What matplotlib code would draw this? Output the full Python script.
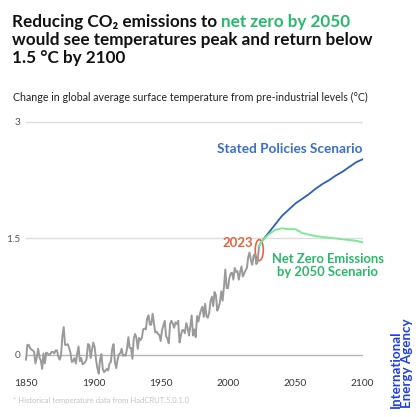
import matplotlib
matplotlib.use("Agg")
import matplotlib.pyplot as plt
from matplotlib.patches import Ellipse

plt.rcParams['font.family'] = ['Lato', 'DejaVu Sans']

# historical anomaly vs pre-industrial (HadCRUT-style), 1850-2023
hist_years = list(range(1850, 2024))
hist_temp = [
    -0.06, 0.13, 0.13, 0.09, 0.07, 0.06, 0.04, -0.11, -0.03, 0.08,
    -0.03, -0.07, -0.18, 0.02, -0.11, 0.03, 0.02, 0.00, 0.01, 0.04,
    0.04, 0.02, 0.06, 0.06, -0.02, -0.06, -0.01, 0.24, 0.36, 0.13,
    0.13, 0.14, 0.09, 0.03, -0.09, -0.08, -0.04, -0.11, 0.02, 0.11,
    -0.08, -0.04, -0.12, -0.11, -0.09, -0.05, 0.14, 0.13, -0.04, 0.07,
    0.16, 0.10, -0.06, -0.17, -0.24, -0.06, 0.01, -0.18, -0.22, -0.20,
    -0.18, -0.20, -0.11, -0.09, 0.08, 0.14, -0.09, -0.17, -0.06, 0.01,
    0.02, 0.08, -0.01, 0.00, -0.01, 0.08, 0.23, 0.09, 0.09, -0.05,
    0.21, 0.27, 0.22, 0.08, 0.22, 0.19, 0.22, 0.33, 0.34, 0.33,
    0.47, 0.51, 0.39, 0.39, 0.53, 0.41, 0.29, 0.30, 0.27, 0.26,
    0.18, 0.32, 0.38, 0.44, 0.24, 0.21, 0.15, 0.40, 0.44, 0.40,
    0.35, 0.42, 0.40, 0.44, 0.16, 0.25, 0.32, 0.32, 0.28, 0.41,
    0.35, 0.25, 0.37, 0.51, 0.25, 0.33, 0.23, 0.50, 0.43, 0.52,
    0.58, 0.62, 0.49, 0.66, 0.50, 0.48, 0.54, 0.69, 0.75, 0.63,
    0.81, 0.77, 0.57, 0.61, 0.68, 0.82, 0.70, 0.88, 1.10, 0.86,
    0.86, 0.99, 1.05, 1.06, 0.97, 1.12, 1.07, 1.08, 0.97, 1.07,
    1.14, 1.01, 1.05, 1.09, 1.12, 1.26, 1.32, 1.22, 1.16, 1.28,
    1.30, 1.17, 1.20, 1.40,
]

# scenarios
scen_years = [2023, 2025, 2030, 2035, 2040, 2045, 2050, 2055, 2060,
              2065, 2070, 2075, 2080, 2085, 2090, 2095, 2100]
steps = [1.40, 1.46, 1.57, 1.68, 1.79, 1.87, 1.95, 2.01, 2.07,
         2.14, 2.20, 2.25, 2.31, 2.36, 2.42, 2.48, 2.52]
nze = [1.40, 1.46, 1.55, 1.61, 1.63, 1.62, 1.62, 1.57, 1.55,
       1.53, 1.52, 1.51, 1.50, 1.49, 1.48, 1.47, 1.45]

x_ticks = [1850, 1900, 1950, 2000, 2050, 2100]
y_ticks = [0, 1.5, 3]
y_labels = ["0", "1.5", "3"]

grey = "#9a9a9a"
blue = "#2d5fb8"
blue_txt = "#3a6fcc"
green_line = "#7fe898"
green_txt = "#2ab86a"
orange = "#e8643c"

fig = plt.figure(figsize=(4.18, 4.17), dpi=100)
ax = fig.add_axes([0.0622, 0.1022, 0.8055, 0.6146])

ax.axhline(1.5, color="#dcdcdc", lw=1, zorder=0)
ax.axhline(3, color="#dcdcdc", lw=1, zorder=0)
ax.axhline(0, color="#b5b5b5", lw=1, zorder=0)

ax.plot(hist_years, hist_temp, color=grey, lw=1.4, clip_on=False)
ax.plot(scen_years, steps, color=blue, lw=1.3)
ax.plot(scen_years, nze, color=green_line, lw=1.4)

ax.add_patch(Ellipse((2023.2, 1.35), 6, 0.27, angle=0, fill=False,
                     edgecolor=orange, lw=1.2))

ax.text(2100, 2.65, "Stated Policies Scenario", color=blue_txt,
        fontsize=9.8, fontweight="bold", ha="right", va="center")
ax.text(2019, 1.44, "2023", color=orange, fontsize=9.5,
        fontweight="bold", ha="right", va="center")
ax.text(2074, 1.31, "Net Zero Emissions\nby 2050 Scenario", color=green_txt,
        fontsize=9.4, fontweight="bold", ha="center", va="top",
        linespacing=1.05)

ax.set_xlim(1850, 2100)
ax.set_ylim(-0.25, 3.05)
ax.set_xticks(x_ticks)
ax.set_yticks(y_ticks)
ax.set_yticklabels(y_labels)
ax.tick_params(length=0, labelsize=7.3, labelcolor="#555555")
ax.tick_params(axis="x", pad=3, labelcolor="#333333")
ax.tick_params(axis="y", pad=4)
for s in ax.spines.values():
    s.set_visible(False)

# title, first line has a green part
title_size = 12.3
t1 = fig.text(0.029, 0.935, "Reducing CO₂ emissions to ", fontsize=title_size,
              fontweight="bold", color="#111111", va="baseline", ha="left")
fig.add_artist(plt.Annotation("net zero by 2050", xy=(1, 0), xycoords=t1,
                              fontsize=title_size, fontweight="bold",
                              color=green_txt, va="bottom", ha="left"))
fig.text(0.029, 0.892, "would see temperatures peak and return below",
         fontsize=title_size, fontweight="bold", color="#111111",
         va="baseline", ha="left")
fig.text(0.029, 0.849, "1.5 °C by 2100",
         fontsize=title_size, fontweight="bold", color="#111111",
         va="baseline", ha="left")

fig.text(0.031, 0.767,
         "Change in global average surface temperature from pre-industrial levels (°C)",
         fontsize=7.7, color="#222222", va="center", ha="left")

fig.text(0.031, 0.04, "* Historical temperature data from HadCRUT.5.0.1.0",
         fontsize=5.5, color="#c4c4c4", va="center", ha="left")

fig.text(0.987, 0.022, "International\nEnergy Agency", rotation=90,
         fontsize=9.6, fontweight="bold", color="#1f40e0",
         ha="right", va="bottom", multialignment="left", linespacing=0.9)

fig.savefig("out.png", dpi=100)
